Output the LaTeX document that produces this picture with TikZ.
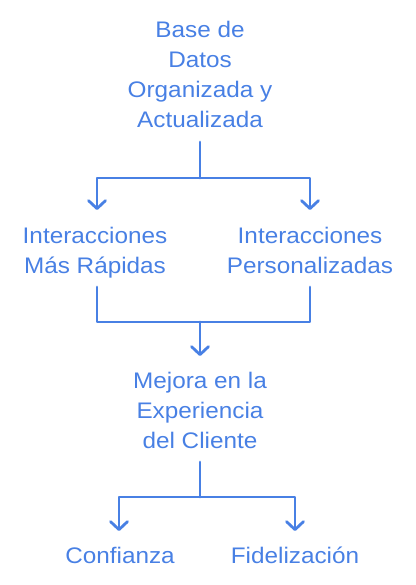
\documentclass[tikz,border=0pt]{standalone}
\usepackage{fontspec}
\setmainfont[FakeStretch=1.08]{Liberation Sans}
\usetikzlibrary{arrows.meta}
\definecolor{nblue}{RGB}{72,128,228}
\begin{document}
\begin{tikzpicture}[x=1pt,y=-1pt,
  lbl/.style={text=nblue,font=\fontsize{22.5}{30}\selectfont,align=center,inner sep=0pt,anchor=base},
  conn/.style={draw=nblue,line width=2.8pt,line cap=round,line join=round},
  arr/.style={conn,-{Straight Barb[length=8pt,width=17pt,line cap=round,line join=round]}}]
\useasboundingbox (0,0) rectangle (415,585);
% nodes (anchor = baseline of last line)
\node[lbl] (top) at (200,128) {Base de\\Datos\\Organizada y\\Actualizada};
\node[lbl] (fast) at (95,273) {Interacciones\\Más Rápidas};
\node[lbl] (pers) at (310,273) {Interacciones\\Personalizadas};
\node[lbl] (mej) at (200,448) {Mejora en la\\Experiencia\\del Cliente};
\node[lbl] (conf) at (120,563) {Confianza};
\node[lbl] (fid) at (295,563) {Fidelización};
% junctions and arrow ends
\coordinate (j1) at (200,178);
\coordinate (j2) at (200,322);
\coordinate (j3) at (200,497);
\coordinate (a1) at (97,210);
\coordinate (a2) at (310,210);
\coordinate (a3) at (200,356);
\coordinate (a4) at (119,531);
\coordinate (a5) at (295,531);
\coordinate (s1) at (97,287);
\coordinate (s2) at (310,287);
% connectors
\draw[conn] ([yshift=-14pt]top.base) -- (j1);
\draw[arr] (j1) -| (a1);
\draw[arr] (j1) -| (a2);
\draw[conn] (s1) |- (j2);
\draw[conn] (s2) |- (j2);
\draw[arr] (j2) -- (a3);
\draw[conn] ([yshift=-14pt]mej.base) -- (j3);
\draw[arr] (j3) -| (a4);
\draw[arr] (j3) -| (a5);
\end{tikzpicture}
\end{document}
